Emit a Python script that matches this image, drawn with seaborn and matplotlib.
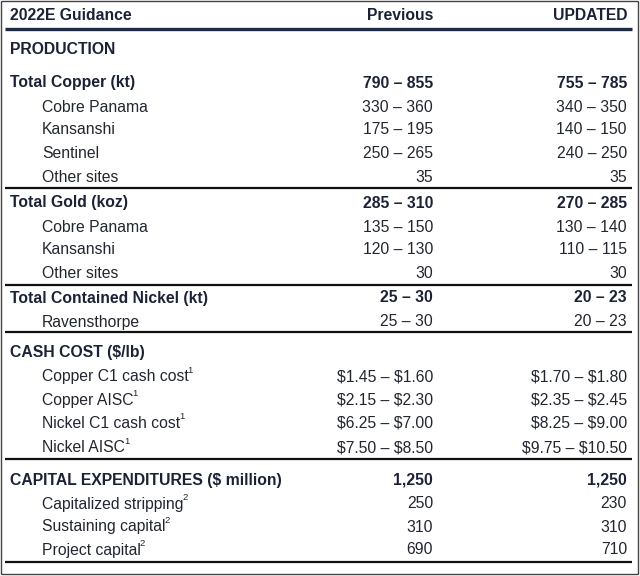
import matplotlib
matplotlib.use("Agg")
import matplotlib.pyplot as plt
import seaborn as sns
import pandas as pd

# Table content
labels = [
    "PRODUCTION",
    "Total Copper (kt)", "Cobre Panama", "Kansanshi", "Sentinel", "Other sites",
    "Total Gold (koz)", "Cobre Panama", "Kansanshi", "Other sites",
    "Total Contained Nickel (kt)", "Ravensthorpe",
    "CASH COST ($/lb)",
    "Copper C1 cash cost", "Copper AISC", "Nickel C1 cash cost", "Nickel AISC",
    "CAPITAL EXPENDITURES ($ million)",
    "Capitalized stripping", "Sustaining capital", "Project capital",
]
previous = [
    "",
    "790 – 855", "330 – 360", "175 – 195", "250 – 265", "35",
    "285 – 310", "135 – 150", "120 – 130", "30",
    "25 – 30", "25 – 30",
    "",
    "$1.45 – $1.60", "$2.15 – $2.30", "$6.25 – $7.00", "$7.50 – $8.50",
    "1,250",
    "250", "310", "690",
]
updated = [
    "",
    "755 – 785", "340 – 350", "140 – 150", "240 – 250", "35",
    "270 – 285", "130 – 140", "110 – 115", "30",
    "20 – 23", "20 – 23",
    "",
    "$1.70 – $1.80", "$2.35 – $2.45", "$8.25 – $9.00", "$9.75 – $10.50",
    "1,250",
    "230", "310", "710",
]
footnotes = [
    "", "", "", "", "", "", "", "", "", "", "", "", "",
    "1", "1", "1", "1", "", "2", "2", "2",
]
bold_rows = [
    "PRODUCTION", "Total Copper (kt)", "Total Gold (koz)",
    "Total Contained Nickel (kt)", "CASH COST ($/lb)",
    "CAPITAL EXPENDITURES ($ million)",
]
headers = ["2022E Guidance", "Previous", "UPDATED"]

df = pd.DataFrame({"label": labels, "previous": previous,
                   "updated": updated, "note": footnotes})
df["bold"] = df["label"].isin(bold_rows)

# Layout (pixel coordinates)
row_y = [49, 82, 106, 129, 152, 176, 202, 226, 249, 273, 297, 321,
         352, 376, 399, 422, 447, 479, 503, 526, 549]
rules = [188, 285, 332, 459, 562]
x_bold, x_indent, x_prev, x_upd = 10, 42, 433, 627

sns.set_theme(style="white")
plt.rcParams["font.family"] = ["Liberation Sans", "DejaVu Sans"]

fig = plt.figure(figsize=(6.4, 5.76), dpi=100)
ax = fig.add_axes([0, 0, 1, 1])
ax.set_xlim(0, 640)
ax.set_ylim(576, 0)
ax.axis("off")

fs = 11.3
bold_color = "#1b2235"
text_color = "#222630"
off = 5.5  # baseline offset from visual center

kw = dict(fontsize=fs, va="baseline", parse_math=False)
ax.text(x_bold, 15 + off, headers[0], fontweight="bold", color=bold_color, **kw)
ax.text(x_prev, 15 + off, headers[1], fontweight="bold", color=bold_color,
        ha="right", **kw)
ax.text(x_upd, 15 + off, headers[2], fontweight="bold", color=bold_color,
        ha="right", **kw)
ax.hlines(28.5, 5, 632, color="#1f2a44", lw=2.4)

fig.canvas.draw()
renderer = fig.canvas.get_renderer()

for y, row in zip(row_y, df.itertuples()):
    weight = "bold" if row.bold else "normal"
    color = bold_color if row.bold else text_color
    x0 = x_bold if row.bold else x_indent
    t = ax.text(x0, y + off, row.label, fontweight=weight, color=color, **kw)
    if row.note:
        bb = t.get_window_extent(renderer)
        xe = bb.x1 * 640 / fig.bbox.width
        ax.text(xe - 1.0, y - 3, row.note, fontsize=6.8, color=color,
                va="baseline")
    ax.text(x_prev, y + off, row.previous, fontweight=weight, color=color,
            ha="right", **kw)
    ax.text(x_upd, y + off, row.updated, fontweight=weight, color=color,
            ha="right", **kw)

ax.hlines(rules, 5, 632, color="#111111", lw=1.6)

# outer frame
ax.add_patch(plt.Rectangle((1, 1), 637, 573, fill=False,
                           edgecolor="#444444", lw=1.0))

fig.savefig("out.png", dpi=100)
